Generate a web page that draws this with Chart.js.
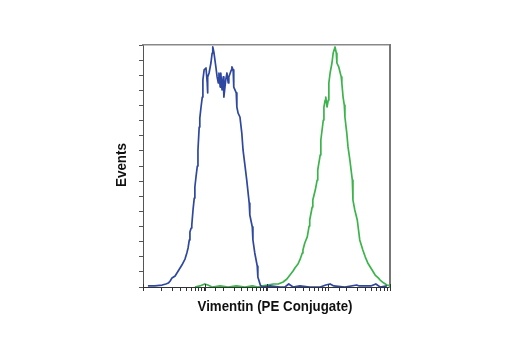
<!DOCTYPE html>
<html>
<head>
<meta charset="utf-8">
<title>Vimentin (PE Conjugate)</title>
<script src="https://cdn.jsdelivr.net/npm/chart.js@4/dist/chart.umd.min.js"></script>
<style>
  html, body { margin: 0; padding: 0; background: #fff; }
  #chart { display: block; }
</style>
</head>
<body>
<canvas id="chart" width="520" height="350"></canvas>
<script>
// histogram channels are given as log10 of fluorescence intensity
const blueDecade = [0.08, 0.19, 0.31, 0.37, 0.41, 0.44, 0.47, 0.52, 0.55, 0.60, 0.63, 0.68, 0.71, 0.73, 0.75, 0.76,
    0.78, 0.79, 0.81, 0.83, 0.84, 0.86, 0.88, 0.89, 0.91, 0.92, 0.94, 0.96, 0.97, 0.99, 1.02, 1.04, 1.045, 1.05,
    1.07, 1.10, 1.12, 1.13, 1.15, 1.18, 1.20, 1.22, 1.23, 1.25, 1.26, 1.28, 1.30, 1.31, 1.34, 1.36, 1.38, 1.39,
    1.43, 1.44, 1.46, 1.47, 1.51, 1.52, 1.54, 1.57, 1.60, 1.62, 1.65, 1.68, 1.72, 1.73, 1.77, 1.78, 1.81, 1.85,
    1.86, 1.90, 1.93, 2.06, 2.22, 2.30, 2.36, 2.43, 2.54, 2.70, 2.87, 2.96, 3.03, 3.09, 3.27, 3.46, 3.50, 3.69,
    3.77, 3.84, 3.95];
const blueEvents = [0.7, 0.7, 1.3, 2.0, 2.6, 4.0, 6.0, 7.3, 9.3, 12.6, 14.5, 18.5, 22.5, 25.8, 31.1, 36.4,
    39.0, 41.0, 50.9, 58.8, 66.1, 73.4, 80.0, 90.6, 105.8, 111.7, 119.0, 125.6, 136.9, 143.5, 144.8, 134.9, 128.3, 138.9,
    141.5, 148.1, 154.7, 158.7, 154.7, 145.5, 138.9, 134.9, 141.5, 132.2, 141.5, 130.3, 138.9, 125.6, 136.9, 141.5, 134.9, 138.9,
    143.5, 145.5, 143.5, 132.2, 128.3, 119.0, 115.0, 112.4, 101.8, 90.6, 80.7, 70.7, 55.5, 47.6, 39.7, 31.1, 22.5, 13.9,
    6.6, 1.3, 0, 0.7, 0, 0, 2.0, 0, 0.7, 0, 0, 1.3, 2.0, 0.7, 0, 1.3, 0.7, 0.7,
    2.0, 0, 0.7];

const greenDecade = [0.84, 0.92, 1.00, 1.05, 1.12, 1.25, 1.38, 1.51, 1.65, 1.77, 1.86, 1.94, 2.02, 2.11, 2.19, 2.27,
    2.33, 2.38, 2.43, 2.46, 2.51, 2.54, 2.58, 2.59, 2.62, 2.66, 2.69, 2.70, 2.74, 2.75, 2.79, 2.82, 2.83, 2.87,
    2.88, 2.92, 2.93, 2.95, 2.96, 2.98, 3.00, 3.01, 3.03, 3.06, 3.08, 3.11, 3.13, 3.14, 3.17, 3.21, 3.22, 3.24,
    3.26, 3.27, 3.30, 3.32, 3.35, 3.39, 3.40, 3.43, 3.47, 3.51, 3.56, 3.60, 3.64, 3.68, 3.73, 3.76, 3.81, 3.84,
    3.90, 3.95, 4.00];
const greenEvents = [0, 0.7, 2.0, 1.3, 0, 0.7, 0, 0.7, 0, 0.7, 0, 0.7, 1.3, 2.0, 2.0, 3.3,
    5.3, 7.9, 10.6, 12.6, 15.2, 17.9, 22.5, 24.5, 29.1, 33.1, 40.3, 44.3, 52.9, 57.5, 64.1, 70.7, 77.4, 87.3,
    97.2, 110.4, 119.0, 123.6, 125.6, 119.0, 123.6, 134.9, 141.5, 148.1, 154.7, 158.7, 154.7, 148.1, 145.5, 138.9, 134.9, 125.6,
    120.3, 112.4, 101.8, 92.6, 84.0, 70.7, 57.5, 50.9, 44.3, 31.1, 24.5, 19.8, 15.9, 13.2, 9.9, 7.9, 6.0, 4.6,
    2.6, 1.3, 0.7];

const xTitle = 'Vimentin (PE Conjugate)';
const yTitle = 'Events';

function toPoints(decades, counts) {
    return decades.map((d, i) => ({ x: 10 ** d, y: counts[i] }));
}

// longer marks at each decade of the log axis, reaching into the plot
const decadeTicks = {
    id: 'decadeTicks',
    afterDatasetsDraw(chart) {
        const scale = chart.scales.x;
        const ctx = chart.ctx;
        const bottom = chart.chartArea.bottom;
        ctx.save();
        ctx.strokeStyle = '#333';
        ctx.lineWidth = 1;
        scale.ticks.forEach(t => {
            const e = Math.log10(t.value);
            if (Math.abs(e - Math.round(e)) > 1e-6) return;
            const x = Math.round(scale.getPixelForValue(t.value)) + 0.5;
            ctx.beginPath();
            ctx.moveTo(x, bottom - 3);
            ctx.lineTo(x, bottom + 4);
            ctx.stroke();
        });
        ctx.restore();
    }
};

// condensed bold captions for both axes
const axisCaptions = {
    id: 'axisCaptions',
    afterDraw(chart) {
        const ctx = chart.ctx;
        ctx.save();
        ctx.fillStyle = '#111';
        ctx.font = 'bold 15px "Liberation Sans", Arial, sans-serif';
        ctx.textAlign = 'center';
        ctx.textBaseline = 'middle';
        ctx.fillText(xTitle, 275, 307, 155);
        ctx.translate(122, 165);
        ctx.rotate(-Math.PI / 2);
        ctx.fillText(yTitle, 0, 0, 44);
        ctx.restore();
    }
};

const chart = new Chart(document.getElementById('chart'), {
    type: 'line',
    data: {
        datasets: [{
            label: 'Isotype',
            data: toPoints(blueDecade, blueEvents),
            borderColor: '#2e47a0',
            borderWidth: 1.7
        }, {
            label: 'Vimentin',
            data: toPoints(greenDecade, greenEvents),
            borderColor: '#3cb44b',
            borderWidth: 1.7
        }]
    },
    options: {
        responsive: false,
        animation: false,
        layout: { padding: { left: 139, top: 45, right: 130, bottom: 59 } },
        elements: {
            point: { radius: 0 },
            line: { tension: 0, fill: false, borderJoinStyle: 'round' }
        },
        plugins: {
            legend: { display: false },
            tooltip: { enabled: false }
        },
        scales: {
            x: {
                type: 'logarithmic',
                min: 1,
                max: 10000,
                ticks: { display: false },
                grid: { drawOnChartArea: false, tickLength: 4, tickColor: '#333' },
                border: { color: '#333', width: 1 },
                afterFit: s => { s.height = 4; }
            },
            y: {
                min: 0,
                max: 160,
                ticks: { display: false, stepSize: 10 },
                grid: { drawOnChartArea: false, tickLength: 4, tickColor: '#555' },
                border: { color: '#555', width: 1 },
                afterFit: s => { s.width = 4; }
            },
            xTop: {
                position: 'top',
                ticks: { display: false },
                grid: { display: false },
                border: { color: '#888', width: 1.5 },
                afterFit: s => { s.height = 0; }
            },
            yRight: {
                position: 'right',
                ticks: { display: false },
                grid: { display: false },
                border: { color: '#777', width: 2 },
                afterFit: s => { s.width = 0; }
            }
        }
    },
    plugins: [decadeTicks, axisCaptions]
});
</script>
</body>
</html>
